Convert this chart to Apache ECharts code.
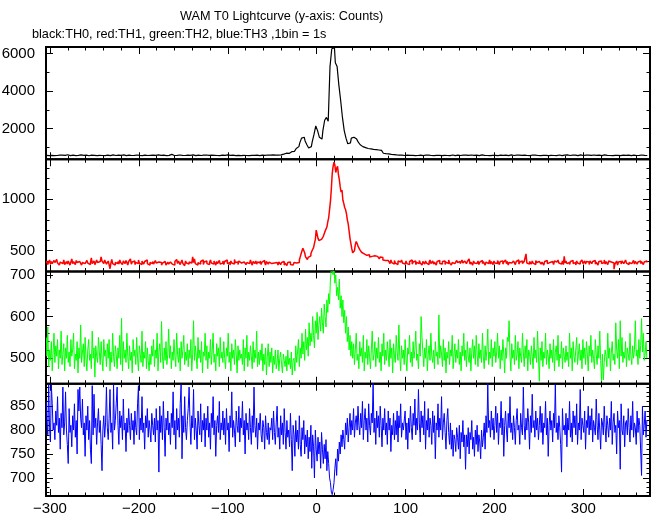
<!DOCTYPE html>
<html><head><meta charset="utf-8">
<script src="https://cdn.jsdelivr.net/npm/echarts@6/dist/echarts.min.js"></script>
<style>html,body{margin:0;padding:0;background:#fff}#c{width:652px;height:515px}</style>
</head><body><div id="c"></div>
<script>
// time bins: t = binStart + i*binSize (seconds from T0)
const binStart = -304;
const th0BinSize = 2;   // TH0 values read every 2 s
const binSize = 1;      // TH1..TH3 read every 1 s

// TH0 (black), 2-s readings
const th0 = [
590,575,600,585,570,610,580,595,565,600,
585,590,620,575,580,600,570,595,585,610,
575,590,600,580,565,595,610,585,570,600,
590,580,605,575,595,585,570,615,590,580,
600,575,590,610,585,570,595,600,580,590,
575,605,585,595,570,600,620,580,590,575,
600,585,570,610,590,580,595,575,600,585,
640,600,580,590,570,605,585,595,580,600,
575,590,610,585,570,600,590,580,595,575,
605,585,570,600,590,615,580,575,595,600,
585,570,610,590,580,600,575,595,585,570,
605,590,580,600,575,590,610,585,595,580,
570,600,590,585,605,575,595,610,590,600,
600,620,610,650,680,700,690,740,780,800,
850,950,1050,1250,1500,1550,1350,1150,980,1050,
1300,1700,2150,1900,1550,1450,1900,2450,2600,2400,
5300,6250,6300,5500,5300,4300,3500,2600,1900,1500,
1200,1250,1500,1550,1450,1350,1270,1150,1050,1000,
980,950,930,920,900,890,880,870,850,760,
700,680,670,650,640,630,620,610,
600,585,595,580,570,600,590,610,585,575,
595,580,600,590,570,605,585,595,580,600,
575,590,610,585,570,600,590,580,595,575,
605,585,570,600,590,580,600,575,595,585,
570,605,590,580,600,575,590,610,585,595,
580,570,600,590,585,605,575,595,640,590,
600,585,570,610,590,580,595,575,600,585,
570,600,580,590,570,605,585,595,580,600,
575,590,610,585,570,600,590,580,595,575,
605,585,570,600,590,615,580,575,595,600,
585,570,610,590,580,600,575,595,585,570,
605,590,580,600,575,590,610,585,595,580,
570,600,590,585,605,575,595,610,590,600,
585,570,595,600,580,590,575,605,585,595,
580];

// TH1 (red), 1-s readings
const th1 = [
380,400,365,390,410,370,395,375,360,405,385,370,415,380,395,360,390,400,375,385,
410,365,380,395,370,400,385,360,390,420,375,395,380,365,405,385,370,395,380,410,
360,385,400,375,390,370,405,380,395,365,385,430,375,390,400,365,380,410,385,370,
395,380,440,400,385,375,410,390,370,385,400,365,325,380,415,375,390,360,385,400,
375,395,370,410,385,380,365,400,390,375,405,385,360,395,380,420,370,390,385,400,
365,385,395,375,410,380,390,365,400,385,370,395,380,410,375,390,360,385,400,375,
395,370,385,405,380,365,390,375,400,385,360,380,370,395,385,360,375,390,370,380,
390,405,370,385,360,395,380,415,375,400,385,365,390,410,375,385,355,400,380,395,
370,390,405,380,365,440,385,420,375,390,360,385,400,370,395,380,410,365,390,385,
400,375,390,365,385,410,380,395,370,400,385,360,395,375,390,405,370,385,380,400,
365,395,380,410,375,390,385,360,400,380,395,370,415,385,375,390,365,400,385,380,
395,370,390,405,380,365,385,400,375,390,410,380,360,395,385,375,400,370,390,385,
380,400,365,390,375,405,385,360,395,380,370,390,400,375,385,365,380,395,370,385,
375,360,390,380,365,385,370,395,360,380,375,355,385,370,390,365,380,360,375,385,
370,380,395,375,385,
410,440,470,500,525,510,480,440,425,415,435,420,450,470,495,510,530,520,610,700,
660,620,600,590,610,600,620,640,655,690,700,730,780,820,900,980,1100,1250,1320,1360,
1330,1260,1300,1320,1240,1190,1120,1070,1090,990,960,920,900,860,800,760,690,620,570,520,
480,470,500,560,590,570,545,530,510,495,485,475,470,460,465,455,470,450,460,440,
455,445,460,435,450,440,465,445,430,450,420,440,425,435,410,420,405,415,395,405,
390,400,375,410,385,395,370,405,380,395,365,400,385,390,375,410,380,395,370,385,
400,375,390,365,395,385,410,370,390,380,400,365,385,395,375,405,380,390,360,395,
385,370,400,380,395,365,390,410,375,385,400,370,390,380,360,395,385,405,375,390,
370,395,380,400,365,390,385,375,410,380,395,360,385,400,375,390,370,405,385,380,
395,375,390,410,380,365,400,385,375,395,380,420,370,390,385,360,400,380,395,375,
385,400,365,390,380,405,375,395,385,360,390,400,375,385,410,370,395,380,365,400,
380,390,375,405,385,365,395,380,400,370,390,385,410,375,395,360,385,400,380,390,
375,400,385,365,395,380,410,370,390,385,400,375,360,395,385,470,380,390,370,395,
385,370,400,380,390,365,405,385,375,395,380,400,370,390,385,360,395,380,405,375,
390,385,400,370,395,380,365,400,385,390,375,410,380,395,370,385,400,365,445,380,
400,375,390,385,365,395,380,405,375,390,385,360,400,380,395,370,390,385,410,375,
385,400,370,395,380,390,365,400,385,375,395,380,405,370,390,385,360,395,380,400,
375,390,385,410,370,395,380,365,400,385,390,375,405,380,320,370,385,400,360,390,
380,395,370,400,385,375,390,410,380,395,365,385,400,375,390,380,405,370,395,385,
370,390,380,400,375,395,385,365,390,380,400,385];

// TH2 (green), 1-s readings
const th2 = [
550,505,575,480,520,495,540,470,515,560,490,530,505,545,475,520,500,565,485,510,
535,470,525,500,555,490,515,480,545,505,520,560,475,510,495,540,465,525,500,580,
490,515,535,480,550,500,470,520,545,495,510,475,565,500,525,455,530,505,490,550,
515,485,540,500,470,545,505,520,480,535,500,545,470,515,490,560,505,480,530,510,
475,525,500,555,485,596,470,540,500,520,490,560,505,475,530,495,515,465,545,505,
520,485,550,500,470,530,510,490,565,480,515,500,540,475,525,495,470,510,485,530,
505,545,480,520,500,560,470,515,535,490,588,505,475,525,495,540,485,510,570,500,
530,475,515,495,545,505,480,560,510,490,525,470,540,500,520,555,485,515,495,535,
480,520,500,545,470,510,590,495,530,505,475,550,500,520,490,540,465,515,505,560,
495,530,475,515,500,545,485,520,560,490,510,470,535,505,525,480,550,500,515,490,
540,500,475,525,505,560,490,515,470,535,500,520,485,545,510,465,530,495,520,500,
510,485,545,470,525,500,555,480,515,495,530,505,475,540,490,520,500,565,480,515,
485,520,495,535,470,510,485,525,460,505,535,480,515,490,525,465,505,485,520,475,
490,520,470,500,515,485,465,510,495,480,505,470,520,485,500,475,515,460,495,
500,470,530,490,515,545,480,525,500,560,510,540,495,570,520,550,505,585,530,560,
540,600,555,525,590,560,610,545,580,600,565,620,585,560,630,600,575,640,610,655,
630,690,715,715,700,720,680,700,650,670,640,690,620,650,600,640,585,615,560,600,
540,575,520,555,505,540,
500,535,485,520,560,495,510,475,540,505,525,490,555,470,515,500,545,485,530,505,
475,520,565,495,510,540,480,525,500,550,490,515,470,535,505,560,485,520,495,540,
510,480,545,500,525,465,535,505,490,555,515,495,580,505,470,530,500,520,485,545,
500,470,525,510,555,490,515,480,540,500,520,565,495,510,475,535,505,600,550,515,
480,525,500,545,470,510,530,495,560,505,490,520,475,540,505,515,485,604,500,530,
510,480,545,495,525,465,515,500,540,485,520,505,555,475,510,535,490,520,500,545,
485,515,470,530,505,560,495,520,480,540,505,490,525,470,515,545,500,530,485,555,
510,480,535,500,520,490,560,505,475,530,495,520,570,485,515,500,545,480,525,505,
540,490,515,560,500,530,475,520,495,545,510,465,525,500,550,540,590,505,470,535,
500,520,485,555,495,510,540,475,525,505,490,560,515,480,530,500,545,470,520,510,
485,530,505,475,550,500,520,490,565,505,445,525,495,540,480,515,500,560,485,520,
505,475,535,500,520,490,545,470,515,530,495,555,480,510,500,540,475,525,505,490,
530,495,515,480,560,500,525,470,540,505,490,520,550,485,510,535,495,520,475,545,
500,525,485,540,510,470,530,505,555,490,520,500,475,545,510,485,530,500,565,495,
445,510,448,490,520,505,480,560,500,525,470,515,540,495,510,485,585,520,500,545,
475,590,505,550,490,515,500,540,480,525,510,495,560,505,485,530,500,520,590,505,
520,485,545,500,530,595,515,560,495,510,540,500];

// TH3 (blue), 1-s readings
const th3 = [
860,820,790,895,805,775,895,855,800,815,780,840,810,870,795,825,760,835,805,890,
790,815,880,800,770,730,845,795,810,765,830,800,855,785,820,750,885,840,890,825,
805,865,790,815,745,830,800,850,780,820,760,730,893,790,875,805,825,770,815,845,
795,820,770,715,800,830,785,815,890,805,780,825,885,795,815,760,895,800,820,855,
890,810,770,840,805,830,780,865,800,815,755,825,795,845,810,780,835,800,820,770,
840,805,790,855,893,780,825,800,870,795,815,760,830,805,845,785,820,800,775,835,
810,790,825,775,845,800,820,712,850,795,830,780,860,805,745,825,800,840,790,815,
770,835,805,880,790,820,760,845,800,825,785,855,895,740,830,795,870,805,780,820,
845,890,815,770,830,805,885,780,825,800,760,840,810,790,855,775,820,800,835,765,
825,800,850,785,815,760,835,805,870,790,820,745,810,830,795,860,780,815,800,840,
790,825,770,845,800,815,755,830,805,880,785,820,800,765,840,810,795,850,775,825,
805,860,790,820,750,835,800,815,780,845,805,770,830,795,890,810,785,825,760,815,
800,835,790,775,820,805,760,830,795,780,815,770,805,
800,825,780,840,795,770,815,850,785,805,760,830,790,815,770,845,795,760,820,785,
800,765,835,780,715,810,790,745,820,775,800,760,830,770,745,805,780,820,750,790,
765,800,740,785,755,810,720,790,765,700,800,760,735,785,750,775,720,795,760,730,
770,740,780,715,755,730,700,690,670,665,675,690,720,740,705,760,735,775,750,790,
765,800,780,760,815,790,825,775,805,835,790,820,800,845,785,815,830,800,850,810,
790,835,805,860,780,820,845,800,825,775,855,810,790,835,815,900,795,825,770,840,
805,830,785,850,810,765,825,800,845,790,815,770,840,800,825,755,810,790,835,780,
820,790,840,775,830,805,855,785,815,800,800,840,780,815,760,825,795,850,805,780,
835,810,865,790,825,800,885,815,775,840,805,830,790,860,760,820,800,845,785,825,
810,770,840,795,830,740,815,800,855,785,825,800,870,780,815,835,795,760,820,845,
795,770,815,760,800,745,790,780,755,805,785,760,810,740,795,775,820,765,790,718,
790,765,805,750,795,780,820,760,785,745,800,770,810,755,790,775,740,800,765,785,
815,760,830,795,898,805,820,785,840,800,825,780,810,850,795,835,770,815,805,860,
790,825,745,810,840,800,775,835,805,870,795,815,780,830,805,770,820,845,800,810,
770,835,805,790,890,810,780,825,800,845,815,760,830,795,875,805,820,785,840,800,
825,780,810,850,795,835,770,815,805,860,790,825,745,810,840,800,820,775,835,805,
895,795,815,780,830,805,770,712,845,800,810,790,835,765,825,800,860,785,815,775,
840,805,830,790,855,770,815,800,885,780,825,810,795,840,760,820,805,850,790,830,
800,845,775,820,805,790,865,810,780,835,800,760,825,815,790,850,805,775,830,810,
785,825,800,860,770,815,835,795,810,750,840,805,820,718,855,800,790,830,765,815,
820,790,845,805,775,830,800,860,785,815,805,770,840,795,825,810,810,705,850,790,
810,840,785,820];

const seriesNames = ['TH0','TH1','TH2','TH3'];
const seriesColors = ['#000000','#ff0000','#00ff00','#0000ff'];

// axes
const xRange = [-304.5, 375];
const yRanges = [[380,6340],[298,1389],[439,708],[662,897]];
const xMajor = [-300,-200,-100,0,100,200,300];
const xMinor = [-280,-260,-240,-220,-180,-160,-140,-120,-80,-60,-40,-20,20,40,60,80,120,140,160,180,220,240,260,280,320,340,360];
const yMajor = [[2000,4000,6000],[500,1000],[500,600,700],[700,750,800,850]];
const yMinor = [[1000,3000,5000],
  [400,600,700,800,900,1100,1200,1300],
  [460,480,520,540,560,580,620,640,660,680],
  [670,680,690,710,720,730,740,760,770,780,790,810,820,830,840,860,870,880,890]];

const titleText = 'WAM T0 Lightcurve (y-axis: Counts)';
const subText = 'black:TH0, red:TH1, green:TH2, blue:TH3 ,1bin = 1s';

const FONT = '"Liberation Sans", Arial, Helvetica, sans-serif';
const tops = [47, 159.25, 271.5, 383.75], H = 112.25;
const widths = [1.2, 1.5, 1, 1];
const data = [th0, th1, th2, th3];
const steps = [th0BinSize, binSize, binSize, binSize];

const grids = [], xAxes = [], yAxes = [], series = [];
for (let g = 0; g < 4; g++) {
  grids.push({left: 46, right: 2, top: tops[g], height: H, show: true,
    borderColor: '#000', borderWidth: 2, backgroundColor: 'transparent',
    containLabel: false, outerBoundsMode: 'none'});
  const xs = [['bottom', xMajor, 7, g === 3], ['bottom', xMinor, 3.5, false],
              ['top', xMajor, 7, false], ['top', xMinor, 3.5, false]];
  xs.forEach(([pos, vals, len, lab]) => {
    xAxes.push({type: 'value', gridIndex: g, position: pos, min: xRange[0], max: xRange[1],
      axisLine: {show: false, onZero: false}, splitLine: {show: false},
      axisTick: {show: true, inside: true, length: len, customValues: vals, lineStyle: {color: '#000', width: 1}},
      axisLabel: lab ? {show: true, customValues: xMajor, margin: 5, color: '#000', fontSize: 15, fontFamily: FONT,
        formatter: v => String(v).replace('-', '\u2212')} : {show: false}});
  });
  const ys = [['left', yMajor[g], 7, true], ['left', yMinor[g], 3.5, false],
              ['right', yMajor[g], 7, false], ['right', yMinor[g], 3.5, false]];
  ys.forEach(([pos, vals, len, lab]) => {
    yAxes.push({type: 'value', gridIndex: g, position: pos, min: yRanges[g][0], max: yRanges[g][1],
      axisLine: {show: false, onZero: false}, splitLine: {show: false},
      axisTick: {show: true, inside: true, length: len, customValues: vals, lineStyle: {color: '#000', width: 1}},
      axisLabel: lab ? {show: true, customValues: yMajor[g], margin: 11, color: '#000', fontSize: 15, fontFamily: FONT,
        formatter: v => String(v)} : {show: false}});
  });
  series.push({type: 'line', name: seriesNames[g], xAxisIndex: g * 4, yAxisIndex: g * 4,
    data: data[g].map((v, i) => [binStart + i * steps[g], v]),
    showSymbol: false, symbol: 'none', step: 'middle', clip: true, silent: true,
    lineStyle: {color: seriesColors[g], width: widths[g]}});
}

const chart = echarts.init(document.getElementById('c'), null, {renderer: 'canvas'});
chart.setOption({
  animation: false,
  backgroundColor: '#fff',
  title: [
    {text: titleText, left: 180, top: 10, padding: 0, textStyle: {fontFamily: FONT, fontSize: 12.7, fontWeight: 'normal', color: '#000'}},
    {text: subText, left: 32, top: 28, padding: 0, textStyle: {fontFamily: FONT, fontSize: 12.7, fontWeight: 'normal', color: '#000'}}
  ],
  grid: grids, xAxis: xAxes, yAxis: yAxes, series: series
});
</script></body></html>
